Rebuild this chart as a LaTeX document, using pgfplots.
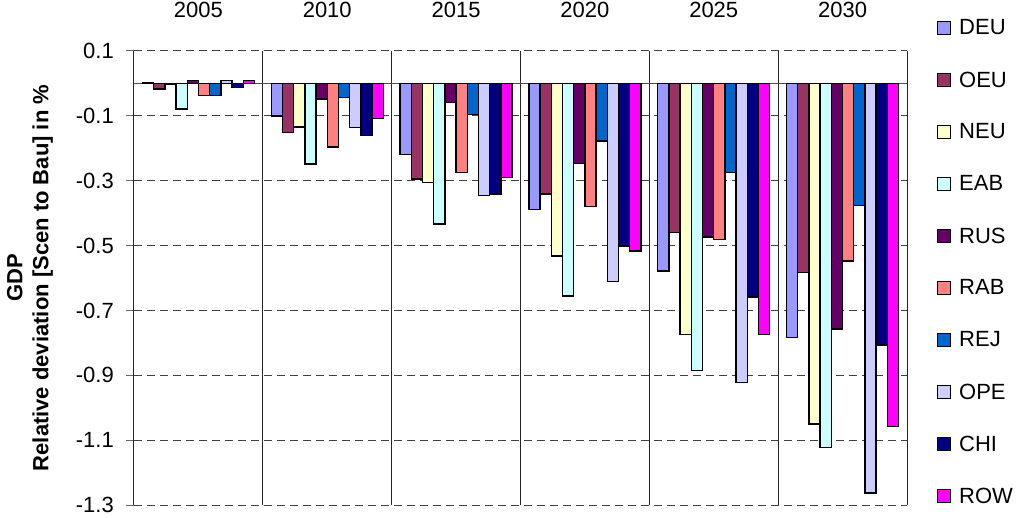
\documentclass[border=0pt]{standalone}
\usepackage{fontspec}
\setmainfont{Liberation Sans}
\usepackage{pgfplots}
\usepackage{pgfplotstable}
\pgfplotsset{compat=1.18}
\definecolor{cDEU}{HTML}{9999FF}
\definecolor{cOEU}{HTML}{993366}
\definecolor{cNEU}{HTML}{FFFFCC}
\definecolor{cEAB}{HTML}{CCFFFF}
\definecolor{cRUS}{HTML}{660066}
\definecolor{cRAB}{HTML}{FF8080}
\definecolor{cREJ}{HTML}{0066CC}
\definecolor{cOPE}{HTML}{CCCCFF}
\definecolor{cCHI}{HTML}{000080}
\definecolor{cROW}{HTML}{FF00FF}
\pgfplotstableread{
x DEU OEU NEU EAB RUS RAB REJ OPE CHI ROW
0 0.003 -0.017 -0.002 -0.079 0.009 -0.038 -0.038 0.009 -0.012 0.009
1 -0.100 -0.151 -0.134 -0.248 -0.048 -0.196 -0.043 -0.135 -0.161 -0.108
2 -0.219 -0.295 -0.305 -0.434 -0.058 -0.274 -0.095 -0.346 -0.341 -0.290
3 -0.389 -0.341 -0.532 -0.656 -0.247 -0.379 -0.177 -0.610 -0.501 -0.517
4 -0.578 -0.460 -0.774 -0.886 -0.474 -0.481 -0.275 -0.922 -0.659 -0.774
5 -0.783 -0.583 -1.050 -1.123 -0.757 -0.547 -0.377 -1.263 -0.806 -1.057
}\gdp
\begin{document}
\begin{tikzpicture}[font=\fontsize{22}{26}\selectfont]
\useasboundingbox (-134pt,-12pt) rectangle (888pt,505pt);
\begin{axis}[
  scale only axis, width=773pt, height=454pt,
  xmin=-0.5, xmax=5.5, ymin=-1.3, ymax=0.1,
  ybar=0pt, bar width=11.2pt,
  axis line style={draw=none},
  xtick={0,...,5}, xticklabels={2005,2010,2015,2020,2025,2030},
  xticklabel pos=upper, x tick style={draw=none},
  xticklabel style={inner sep=0pt, anchor=south, yshift=25pt},
  extra x ticks={-0.5,0.5,1.5,2.5,3.5,4.5,5.5}, extra x tick labels={},
  extra x tick style={grid=major, major grid style={solid, black!85, line width=1pt}},
  ytick={-1.3,-1.1,-0.9,-0.7,-0.5,-0.3,-0.1,0.1},
  ytick pos=left, tick align=outside, major tick length=8pt,
  y tick style={black!60, line width=1pt},
  ymajorgrids, y grid style={black!75, line width=1pt, dash pattern=on 8pt off 5pt},
  /pgf/number format/assume math mode=true,
  yticklabel={\pgfmathprintnumber[fixed,fixed zerofill,precision=1]{\tick}},
  yticklabel style={inner sep=0pt, xshift=-12pt},
  legend cell align=left,
  legend style={at={(axis description cs:1.0388,1.108)}, anchor=north west,
    draw=none, fill=none, inner sep=0pt, row sep=0pt,
    nodes={inner sep=0pt, minimum height=52pt},
    /tikz/every odd column/.append style={column sep=8pt}},
  legend image code/.code={\draw[#1, line width=1pt] (0pt,-6.5pt) rectangle (13pt,6.5pt);},
  every axis plot/.append style={draw=black, line width=1.4pt},
]
\draw[black!70, line width=1pt] (axis cs:-0.5,0) -- (axis cs:5.5,0);
\addplot[fill=cDEU] table[x=x,y=DEU]{\gdp};
\addplot[fill=cOEU] table[x=x,y=OEU]{\gdp};
\addplot[fill=cNEU] table[x=x,y=NEU]{\gdp};
\addplot[fill=cEAB] table[x=x,y=EAB]{\gdp};
\addplot[fill=cRUS] table[x=x,y=RUS]{\gdp};
\addplot[fill=cRAB] table[x=x,y=RAB]{\gdp};
\addplot[fill=cREJ] table[x=x,y=REJ]{\gdp};
\addplot[fill=cOPE] table[x=x,y=OPE]{\gdp};
\addplot[fill=cCHI] table[x=x,y=CHI]{\gdp};
\addplot[fill=cROW] table[x=x,y=ROW]{\gdp};
\legend{DEU,OEU,NEU,EAB,RUS,RAB,REJ,OPE,CHI,ROW}
\end{axis}
\node[rotate=90, align=center, font=\bfseries\fontsize{22}{26}\selectfont] at (-104pt,227pt) {GDP\\Relative deviation [Scen to Bau] in \%};
\end{tikzpicture}
\end{document}
